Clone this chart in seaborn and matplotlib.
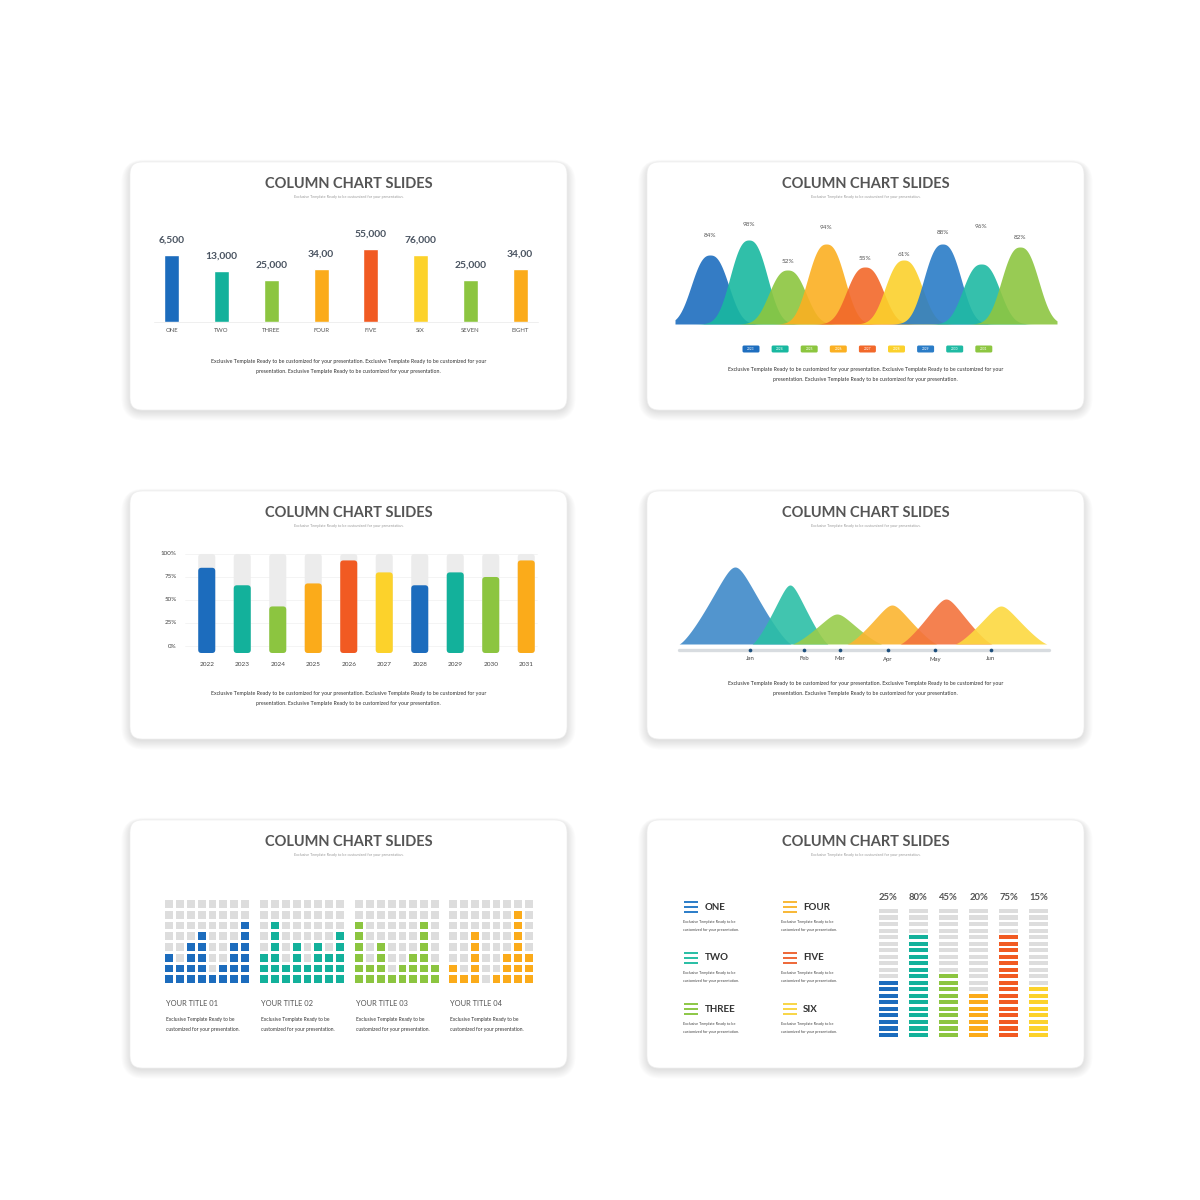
import numpy as np
import pandas as pd
import matplotlib
matplotlib.use("Agg")
import matplotlib.pyplot as plt
import seaborn as sns
from matplotlib.patches import FancyBboxPatch, Rectangle
from matplotlib.colors import ListedColormap

sns.set_theme(style="white")
plt.rcParams['font.family'] = ['Lato', 'DejaVu Sans']

# ---------------- data ----------------
bar_categories = ["ONE", "TWO", "THREE", "FOUR", "FIVE", "SIX", "SEVEN", "EIGHT"]
bar_heights = [67, 51, 42, 53, 73, 67, 42, 53]
bar_value_labels = ["6,500", "13,000", "25,000", "34,00", "55,000", "76,000", "25,000", "34,00"]

bell_heights = [69, 84, 54, 80, 57, 64, 80, 60, 77]
bell_values = [84, 98, 52, 94, 55, 61, 88, 96, 82]
bell_years = ["2023", "2024", "2025", "2026", "2027", "2028", "2029", "2030", "2031"]

pct_years = ["2022", "2023", "2024", "2025", "2026", "2027", "2028", "2029", "2030", "2031"]
pct_values = [85, 66, 43, 68, 93, 80, 66, 80, 75, 93]
pct_ticks = [0, 25, 50, 75, 100]

mountain_peak_x = [56, 111, 158, 213, 267, 322]
mountain_heights = [77, 59, 30, 39, 45, 38]
mountain_half_widths = [56, 38, 45, 45, 46, 46]
month_labels = ["Jan", "Feb", "Mar", "Apr", "May", "Jun"]
month_x = [71, 125, 161, 209, 256, 312]

grid_titles = ["YOUR TITLE 01", "YOUR TITLE 02", "YOUR TITLE 03", "YOUR TITLE 04"]
grid_counts = [
    [3, 2, 4, 5, 1, 2, 4, 6],
    [3, 6, 2, 4, 2, 4, 3, 5],
    [6, 2, 4, 1, 2, 3, 6, 2],
    [2, 1, 5, 0, 1, 3, 7, 3],
]

seg_labels = ["25%", "80%", "45%", "20%", "75%", "15%"]
seg_filled = [9, 16, 10, 7, 16, 8]
seg_total = 20
list_names = ["ONE", "TWO", "THREE", "FOUR", "FIVE", "SIX"]

TITLE = "COLUMN CHART SLIDES"
SUB = "Exclusive Template Ready to be customized for your presentation."
PARA1 = "Exclusive Template Ready to be customized for your presentation. Exclusive Template Ready to be customized for your"
PARA2 = "presentation. Exclusive Template Ready to be customized for your presentation."
DESC1 = "Exclusive Template Ready to be"
DESC2 = "customized for your presentation."

# ---------------- colours ----------------
BLUE = "#1c6cbd"
TEAL = "#13b19b"
GREEN = "#8cc540"
ORANGE = "#fbab1a"
RED = "#f15a22"
YELLOW = "#fcd22b"
GRAYCELL = "#dddddd"
TXT = "#555555"

W, H = 1200, 1200
fig = plt.figure(figsize=(12, 12), dpi=100)
fig.patch.set_facecolor("white")

bg = fig.add_axes([0, 0, 1, 1])
bg.set_xlim(0, W)
bg.set_ylim(H, 0)
bg.axis("off")
bg.set_zorder(0)


def px_axes(x0, y0, x1, y1):
    ax = fig.add_axes([x0 / W, 1 - y1 / H, (x1 - x0) / W, (y1 - y0) / H])
    ax.set_facecolor("none")
    ax.set_zorder(2)
    return ax


def card(x, y, w=437, h=248):
    for k in range(10):
        s = k * 1.2
        bg.add_patch(FancyBboxPatch((x - s * 0.8, y - s * 0.4 + 2), w + 1.6 * s, h + s * 1.2,
                                    boxstyle=f"round,pad=0,rounding_size={12 + s}",
                                    fc="black", ec="none", alpha=0.013))
    bg.add_patch(FancyBboxPatch((x, y), w, h, boxstyle="round,pad=0,rounding_size=12",
                                fc="white", ec="#eeeeee", lw=0.5))
    cx = x + w / 2
    bg.text(cx, y + 22, TITLE, ha="center", va="center", fontsize=10.5, fontweight="bold", color="#555555")
    bg.text(cx, y + 35, SUB, ha="center", va="center", fontsize=2.7, color="#9a9a9a")
    return cx


def paragraph(cx, y):
    bg.text(cx, y, PARA1, ha="center", va="center", fontsize=3.8, color="#333333")
    bg.text(cx, y + 10, PARA2, ha="center", va="center", fontsize=3.8, color="#333333")


cards = [(130, 162), (647, 162), (130, 491), (647, 491), (130, 820), (647, 820)]
centers = [card(x, y) for x, y in cards]

# ---------------- Panel 1: simple columns ----------------
colors1 = [BLUE, TEAL, GREEN, ORANGE, RED, YELLOW, GREEN, ORANGE]
ax1 = px_axes(147, 222, 545, 322)
df1 = pd.DataFrame({"cat": bar_categories, "h": bar_heights})
sns.barplot(data=df1, x="cat", y="h", hue="cat", palette=colors1, width=0.3,
            legend=False, ax=ax1, saturation=1)
ax1.set_xlim(-0.5, 7.5)
ax1.set_ylim(0, 100)
ax1.axis("off")
ax1.plot([-0.35, 7.35], [0, 0], color="#ececec", lw=0.6, zorder=0, clip_on=False)
for i, (cat, h, lab) in enumerate(zip(bar_categories, bar_heights, bar_value_labels)):
    ax1.text(i, h + 15, lab, ha="center", va="center", fontsize=7.4, fontweight="bold",
             color="#4a5461", clip_on=False)
    ax1.text(i, -8, cat, ha="center", va="center", fontsize=4.3, color=TXT, clip_on=False)
paragraph(centers[0], 362)

# ---------------- Panel 2: bells ----------------
colors2 = ["#1e6ebf", "#19b8a0", "#8cc63f", "#fbb022", "#f2682a", "#fbd12c", "#2a7cc7", "#1fbaa3", "#8dc641"]
ax2 = px_axes(675, 204, 1057, 324)
x_lo, x_hi = -0.903, 8.955
ax2.set_xlim(x_lo, x_hi)
ax2.set_ylim(0, 120)
ax2.axis("off")
xs = np.linspace(x_lo, x_hi, 1200)
for i, h in enumerate(bell_heights):
    ys = h * np.exp(-np.abs((xs - i) / 0.6) ** 2.5)
    ax2.fill_between(xs, 0, ys, color=colors2[i], alpha=0.9, lw=0)
for i, v in enumerate(bell_values):
    ax2.text(i, 0.8 * v + 21, f"{v}%", ha="center", va="center", fontsize=4.6, color=TXT, clip_on=False)
for i, yr in enumerate(bell_years):
    lx = 751 + i * 29.1
    bg.add_patch(FancyBboxPatch((lx - 8.5, 345.5), 17, 7, boxstyle="round,pad=0,rounding_size=1.5",
                                fc=colors2[i], ec="none", zorder=3))
    bg.text(lx, 349, yr, ha="center", va="center", fontsize=2.3, color="white", zorder=4)
paragraph(centers[1], 370)

# ---------------- Panel 3: percentage columns ----------------
colors3 = [BLUE, TEAL, GREEN, ORANGE, RED, YELLOW, BLUE, TEAL, GREEN, ORANGE]
ax3 = px_axes(189, 548, 544, 655)
ylo, yhi = -9.78, 106.5
ax3.set_xlim(-0.5, 9.5)
ax3.set_ylim(ylo, yhi)
ax3.axis("off")
df3 = pd.DataFrame({"year": pct_years, "value": pct_values})
sns.barplot(data=df3, x="year", y="value", hue="year", palette=colors3, width=0.48,
            legend=False, ax=ax3, saturation=1)
ax3.set_xlim(-0.5, 9.5)
ax3.set_ylim(ylo, yhi)
xu = 1 / 35.44
yu = 1 / 0.92
aspect = yu / xu
base = -7.6
for p in list(ax3.patches):
    x0, w, h = p.get_x(), p.get_width(), p.get_height()
    fc = p.get_facecolor()
    p.remove()
    ax3.add_patch(FancyBboxPatch((x0, base), w, 100 - base, boxstyle="round,pad=0,rounding_size=0.09",
                                 mutation_aspect=aspect, fc="#ececec", ec="none", zorder=1))
    ax3.add_patch(FancyBboxPatch((x0, base), w, h - base, boxstyle="round,pad=0,rounding_size=0.09",
                                 mutation_aspect=aspect, fc=fc, ec="none", zorder=2))
for t in pct_ticks:
    ax3.plot([-0.62, 9.3], [t, t], color="#f3f3f3", lw=0.6, zorder=0, clip_on=False)
    ax3.text(-0.85, t, f"{t}%", ha="right", va="center", fontsize=4.5, color="#444444", clip_on=False)
for i, yr in enumerate(pct_years):
    ax3.text(i, -19.6, yr, ha="center", va="center", fontsize=4.6, color="#444444", clip_on=False)
paragraph(centers[2], 694)

# ---------------- Panel 4: mountains ----------------
colors4 = ["#3f8ac9", "#2cbfa6", "#98cc4b", "#fbb531", "#f3733d", "#fcd940"]
ax4 = px_axes(679, 556, 1049, 644)
ax4.set_xlim(0, 370)
ax4.set_ylim(0, 88)
ax4.axis("off")
xm = np.linspace(0, 370, 2000)
e = 0.16
for i, (pxp, h, hw) in enumerate(zip(mountain_peak_x, mountain_heights, mountain_half_widths)):
    t = (xm - pxp) / hw
    a = (np.sqrt(t ** 2 + e ** 2) - e) / (np.sqrt(1 + e ** 2) - e)
    f = np.clip(1 - a, 0, 1) ** 1.3
    ax4.fill_between(xm, 0, h * f, color=colors4[i], alpha=0.9, lw=0)
ax4.plot([0, 370], [-6, -6], color="#d8dce0", lw=2.4, solid_capstyle="round", clip_on=False, zorder=2)
ax4.scatter(month_x, [-6] * len(month_x), s=7, color="#1d4f7d", clip_on=False, zorder=3, lw=0)
for mx, ml in zip(month_x, month_labels):
    ax4.text(mx, -15, ml, ha="center", va="center", fontsize=4.3, color="#444444", clip_on=False)
paragraph(centers[3], 683)

# ---------------- Panel 5: waffle grids ----------------
colors5 = [BLUE, TEAL, GREEN, ORANGE]
grid_x0 = [163, 258, 353, 447]
for g, (gx, cnts, ttl) in enumerate(zip(grid_x0, grid_counts, grid_titles)):
    axg = px_axes(gx, 898, gx + 87, 984)
    mat = np.array([[1 if (7 - r) < cnts[c] else 0 for c in range(8)] for r in range(8)])
    sns.heatmap(mat, cmap=ListedColormap([GRAYCELL, colors5[g]]), vmin=0, vmax=1, cbar=False,
                linewidths=1.0, linecolor="white", xticklabels=False, yticklabels=False, ax=axg)
    axg.tick_params(left=False, bottom=False)
    tx = gx + 3
    bg.text(tx, 1003, ttl, ha="left", va="center", fontsize=5.4, color=TXT)
    bg.text(tx, 1020, DESC1, ha="left", va="center", fontsize=3.5, color="#333333")
    bg.text(tx, 1030, DESC2, ha="left", va="center", fontsize=3.5, color="#333333")

# ---------------- Panel 6: list + segmented columns ----------------
colors6 = [BLUE, TEAL, GREEN, ORANGE, RED, YELLOW]
icon_colors = ["#2f7fc9", "#2cbfa6", "#8fc84a", "#f8b93a", "#ee6b3c", "#f8d64a"]
for k, name in enumerate(list_names):
    col = k // 3
    row = k % 3
    ix = 691 if col == 0 else 790
    tx = 705 if col == 0 else 803
    dx = 683 if col == 0 else 781
    yy = 907 + row * 51
    for dy in (-5, 0, 5):
        bg.add_patch(Rectangle((ix - 7, yy + dy - 1), 14, 2.2, fc=icon_colors[k], ec="none"))
    bg.text(tx, yy, name, ha="left", va="center", fontsize=7, fontweight="bold", color="#333333")
    bg.text(dx, yy + 15, DESC1, ha="left", va="center", fontsize=2.7, color="#444444")
    bg.text(dx, yy + 23, DESC2, ha="left", va="center", fontsize=2.7, color="#444444")

ax6 = px_axes(873, 907.7, 1054, 1038.3)
ax6.set_xlim(-0.5, 5.5)
ax6.set_ylim(-0.5, 19.5)
ax6.axis("off")
for i, (n, lab) in enumerate(zip(seg_filled, seg_labels)):
    segs = np.arange(seg_total)
    cols = [colors6[i] if j < n else GRAYCELL for j in segs]
    ax6.bar(np.full(seg_total, i), 0.62, bottom=segs - 0.31, width=0.63, color=cols, lw=0)
    ax6.text(i, 21.1, lab, ha="center", va="center", fontsize=6.8, fontweight="bold",
             color=TXT, clip_on=False)

fig.savefig("out.png", dpi=100, facecolor="white")
